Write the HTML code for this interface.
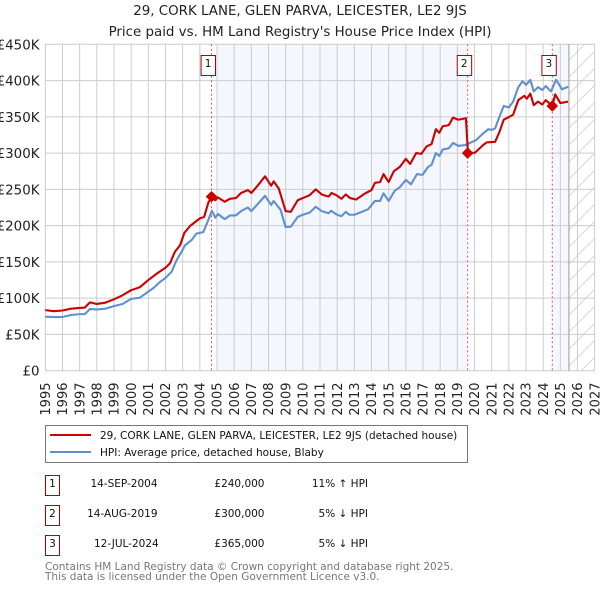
<!DOCTYPE html>
<html lang="en">
<head>
<meta charset="utf-8">
<title>29, Cork Lane, Glen Parva - Price paid vs HPI</title>
<style>
html,body{margin:0;padding:0;background:#fff;width:600px;height:590px;overflow:hidden}
svg{display:block;font-family:"DejaVu Sans","Liberation Sans",sans-serif}
</style>
</head>
<body>
<svg id="chart" xmlns="http://www.w3.org/2000/svg" width="600" height="590" viewBox="0 0 600 590">
<defs>
<pattern id="hatch" patternUnits="userSpaceOnUse" width="17" height="17">
<path d="M-2 19 L19 -2" stroke="#d8d8d8" stroke-width="1" fill="none"/>
</pattern>
</defs>
<text x="300" y="15" text-anchor="middle" font-size="13.4" fill="#222">29, CORK LANE, GLEN PARVA, LEICESTER, LE2 9JS</text>
<text x="300" y="36" text-anchor="middle" font-size="13.4" fill="#222">Price paid vs. HM Land Registry's House Price Index (HPI)</text>
<g id="plot"></g>

<g>
<rect x="45.5" y="425.5" width="422" height="37" fill="#fff" stroke="#777" stroke-width="1"/>
<line x1="50" y1="435" x2="91" y2="435" stroke="#cc0000" stroke-width="2"/>
<text x="100" y="439" font-size="10.5" fill="#111">29, CORK LANE, GLEN PARVA, LEICESTER, LE2 9JS (detached house)</text>
<line x1="50" y1="452" x2="91" y2="452" stroke="#6090d0" stroke-width="2"/>
<text x="100" y="456" font-size="10.5" fill="#111">HPI: Average price, detached house, Blaby</text>
</g>

<g font-size="10.5" fill="#111">
<rect x="45.5" y="475.5" width="14" height="20" fill="#fff" stroke="#b00000" stroke-width="1"/>
<text x="52.5" y="487" text-anchor="middle">1</text>
<text x="157.5" y="487" text-anchor="end">14-SEP-2004</text>
<text x="264.5" y="487" text-anchor="end">£240,000</text>
<text x="368" y="487" text-anchor="end">11% ↑ HPI</text>
<rect x="45.5" y="505.5" width="14" height="20" fill="#fff" stroke="#b00000" stroke-width="1"/>
<text x="52.5" y="517" text-anchor="middle">2</text>
<text x="157.5" y="517" text-anchor="end">14-AUG-2019</text>
<text x="264.5" y="517" text-anchor="end">£300,000</text>
<text x="368" y="517" text-anchor="end">5% ↓ HPI</text>
<rect x="45.5" y="535.5" width="14" height="20" fill="#fff" stroke="#b00000" stroke-width="1"/>
<text x="52.5" y="547" text-anchor="middle">3</text>
<text x="158.7" y="547" text-anchor="end">12-JUL-2024</text>
<text x="264.5" y="547" text-anchor="end">£365,000</text>
<text x="368" y="547" text-anchor="end">5% ↓ HPI</text>
</g>

<text x="45" y="570" font-size="10.5" fill="#777">Contains HM Land Registry data © Crown copyright and database right 2025.</text>
<text x="45" y="580" font-size="10.5" fill="#777">This data is licensed under the Open Government Licence v3.0.</text>
</svg>
<script>
const yTicks = [0, 50, 100, 150, 200, 250, 300, 350, 400, 450];
const yTickLabels = ['£0', '£50K', '£100K', '£150K', '£200K', '£250K', '£300K', '£350K', '£400K', '£450K'];
const xTicks = [1995, 1996, 1997, 1998, 1999, 2000, 2001, 2002, 2003, 2004, 2005, 2006, 2007, 2008, 2009, 2010, 2011, 2012, 2013, 2014, 2015, 2016, 2017, 2018, 2019, 2020, 2021, 2022, 2023, 2024, 2025, 2026, 2027];
const priceDates = [1995, 1995.5, 1996, 1996.5, 1997, 1997.3, 1997.6, 1998, 1998.5, 1999, 1999.5, 2000, 2000.5, 2001, 2001.5, 2002, 2002.26, 2002.55, 2002.85, 2003.1, 2003.43, 2004, 2004.25, 2004.5, 2004.7, 2004.9, 2005.05, 2005.45, 2005.75, 2006.1, 2006.4, 2006.8, 2007, 2007.4, 2007.8, 2008.15, 2008.3, 2008.6, 2009, 2009.3, 2009.7, 2010, 2010.4, 2010.75, 2011.1, 2011.5, 2011.67, 2011.95, 2012.25, 2012.5, 2012.75, 2013.1, 2013.6, 2014, 2014.2, 2014.5, 2014.7, 2015, 2015.3, 2015.65, 2016, 2016.25, 2016.6, 2016.9, 2017.2, 2017.5, 2017.75, 2017.95, 2018.15, 2018.5, 2018.75, 2019.05, 2019.5, 2019.62, 2020.03, 2020.5, 2020.7, 2021.2, 2021.45, 2021.7, 2022, 2022.25, 2022.55, 2022.9, 2023.05, 2023.25, 2023.45, 2023.7, 2023.95, 2024.15, 2024.53, 2024.7, 2025, 2025.45];
const priceValues = [83.5, 82, 83, 85.5, 86.5, 87, 94.2, 92, 93.8, 98.4, 104, 111, 115, 125, 134, 142, 148, 164, 173, 190, 199.5, 210, 212, 232, 240, 235, 239, 233, 237, 238, 245, 249, 245, 256, 268, 255, 261, 251, 220, 219, 235, 238, 242, 250, 243, 240, 245, 242, 237, 243, 238, 236, 244, 249, 259, 260, 271, 260, 275, 281, 292, 285, 300, 299, 309, 312.5, 333, 328, 337, 338.6, 349, 346, 348, 300, 300.6, 311, 314.7, 315.6, 329, 346, 349.6, 353, 373, 379, 375, 382, 366, 371, 367, 373, 365, 381, 369, 371];
const hpiDates = [1995, 1995.5, 1996, 1996.5, 1997, 1997.3, 1997.6, 1998, 1998.5, 1999, 1999.5, 2000, 2000.5, 2001, 2001.3, 2001.7, 2002, 2002.36, 2002.65, 2002.94, 2003.14, 2003.52, 2003.8, 2004.2, 2004.5, 2004.7, 2004.9, 2005.05, 2005.45, 2005.75, 2006.1, 2006.4, 2006.8, 2007, 2007.8, 2008.15, 2008.3, 2008.7, 2009, 2009.3, 2009.7, 2010, 2010.4, 2010.75, 2011.1, 2011.5, 2011.65, 2011.95, 2012.25, 2012.5, 2012.7, 2013, 2013.8, 2014.2, 2014.5, 2014.7, 2015, 2015.35, 2015.65, 2016, 2016.3, 2016.65, 2016.97, 2017.3, 2017.5, 2017.75, 2017.95, 2018.15, 2018.5, 2018.75, 2019.05, 2019.45, 2019.73, 2020.1, 2020.5, 2020.8, 2021, 2021.2, 2021.45, 2021.7, 2022, 2022.25, 2022.55, 2022.8, 2023, 2023.25, 2023.45, 2023.7, 2023.95, 2024.15, 2024.45, 2024.75, 2025.1, 2025.45];
const hpiValues = [74.5, 74, 74, 76.8, 78, 78, 85, 84.5, 85.5, 89, 92, 99, 100.6, 109, 114, 122.7, 128, 136.5, 152.6, 164, 173, 180, 189, 191, 208, 220.5, 211, 216, 209, 214, 214, 220, 225, 220, 241, 228.5, 234, 222, 198, 198.5, 212, 215, 218, 226, 220, 217, 220.5, 215.5, 213, 219, 215, 215, 222.5, 234, 234, 244.6, 234, 248, 253, 263, 257, 271, 270, 281, 284, 300, 296, 305, 306.6, 314, 310, 311, 314, 318, 327, 333, 332, 334, 350, 365, 363, 371, 391, 399, 394, 401, 385, 391, 387, 392.5, 385, 401, 388, 391.5];
const saleNumbers = ['1', '2', '3'];
const saleDates = [2004.68, 2019.6, 2024.53];
const saleValues = [240, 300, 365];
const bandStartYears = [2005, 2024.53];
const bandEndYears = [2019.6, 2025.5];
const yMax = 450;
const xStart = 1995;
const xEnd = 2027;
const hpiEnd = 2025.5;

const NS = 'http://www.w3.org/2000/svg';
const plot = document.getElementById('plot');
const left = 45.3, right = 594.7, top_ = 44.3, bottom = 370.7;
function xScale(year) { return left + (year - xStart) / (xEnd - xStart) * (right - left); }
function yScale(value) { return bottom - value / yMax * (bottom - top_); }
function make(tag, attrs, parent) {
  const el = document.createElementNS(NS, tag);
  for (const k in attrs) el.setAttribute(k, attrs[k]);
  (parent || plot).appendChild(el);
  return el;
}
function linePath(dates, values) {
  return dates.map((d, i) => (i ? 'L' : 'M') + xScale(d).toFixed(2) + ' ' + yScale(values[i]).toFixed(2)).join(' ');
}

bandStartYears.forEach((start, i) => {
  const band = make('rect', { x: xScale(start), y: top_, width: xScale(bandEndYears[i]) - xScale(start), height: bottom - top_, fill: '#f4f7fe' });
  
  
});

const hatchArea = make('rect', { x: xScale(hpiEnd), y: top_, width: right - xScale(hpiEnd), height: bottom - top_, fill: 'url(#hatch)' });



yTicks.forEach((tick, i) => {
  const y = yScale(tick);
  const grid = make('line', { x1: left, x2: right, y1: y, y2: y, stroke: '#cccccc', 'stroke-width': 1 });
  
  
  const label = make('text', { x: 39.5, y: y + 5, 'text-anchor': 'end', 'font-size': 13.4, fill: '#222' });
  label.textContent = yTickLabels[i];
  
  
});

xTicks.forEach((tick) => {
  const x = xScale(tick);
  const grid = make('line', { x1: x, x2: x, y1: top_, y2: bottom, stroke: '#cccccc', 'stroke-width': 1 });
  
  
  const label = make('text', { transform: 'translate(' + (x + 4.7) + ',382.5) rotate(-90)', 'text-anchor': 'end', 'font-size': 13, fill: '#222' });
  label.textContent = String(tick);
  
  
});

const hpiEndLine = make('line', { x1: xScale(hpiEnd), x2: xScale(hpiEnd), y1: top_, y2: bottom, stroke: '#999999', 'stroke-width': 1 });



saleDates.forEach((date) => {
  const x = xScale(date);
  const guide = make('line', { x1: x, x2: x, y1: top_, y2: bottom, stroke: '#e8506a', 'stroke-width': 1, 'stroke-dasharray': '2 2.5' });
  
  
});

const hpiLine = make('path', { d: linePath(hpiDates, hpiValues), fill: 'none', stroke: '#6090d0', 'stroke-width': 2.1, 'stroke-linejoin': 'round' });



const priceLine = make('path', { d: linePath(priceDates, priceValues), fill: 'none', stroke: '#cc0000', 'stroke-width': 2.1, 'stroke-linejoin': 'round' });



saleDates.forEach((date, i) => {
  const x = xScale(date), y = yScale(saleValues[i]);
  const marker = make('path', { d: 'M' + x + ' ' + (y - 4.8) + ' L' + (x + 4.8) + ' ' + y + ' L' + x + ' ' + (y + 4.8) + ' L' + (x - 4.8) + ' ' + y + ' Z', fill: '#cc0000', stroke: '#cc0000', 'stroke-width': 1.4, 'stroke-linejoin': 'round' });
  
  
  const badge = make('rect', { x: x - 10.4, y: 55.5, width: 14.4, height: 20, fill: '#fff', stroke: '#b00000', 'stroke-width': 1 });
  
  
  const num = make('text', { x: x - 3.4, y: 67, 'text-anchor': 'middle', 'font-size': 10.5, fill: '#111' });
  num.textContent = saleNumbers[i];
  
  
});
</script>
</body>
</html>
